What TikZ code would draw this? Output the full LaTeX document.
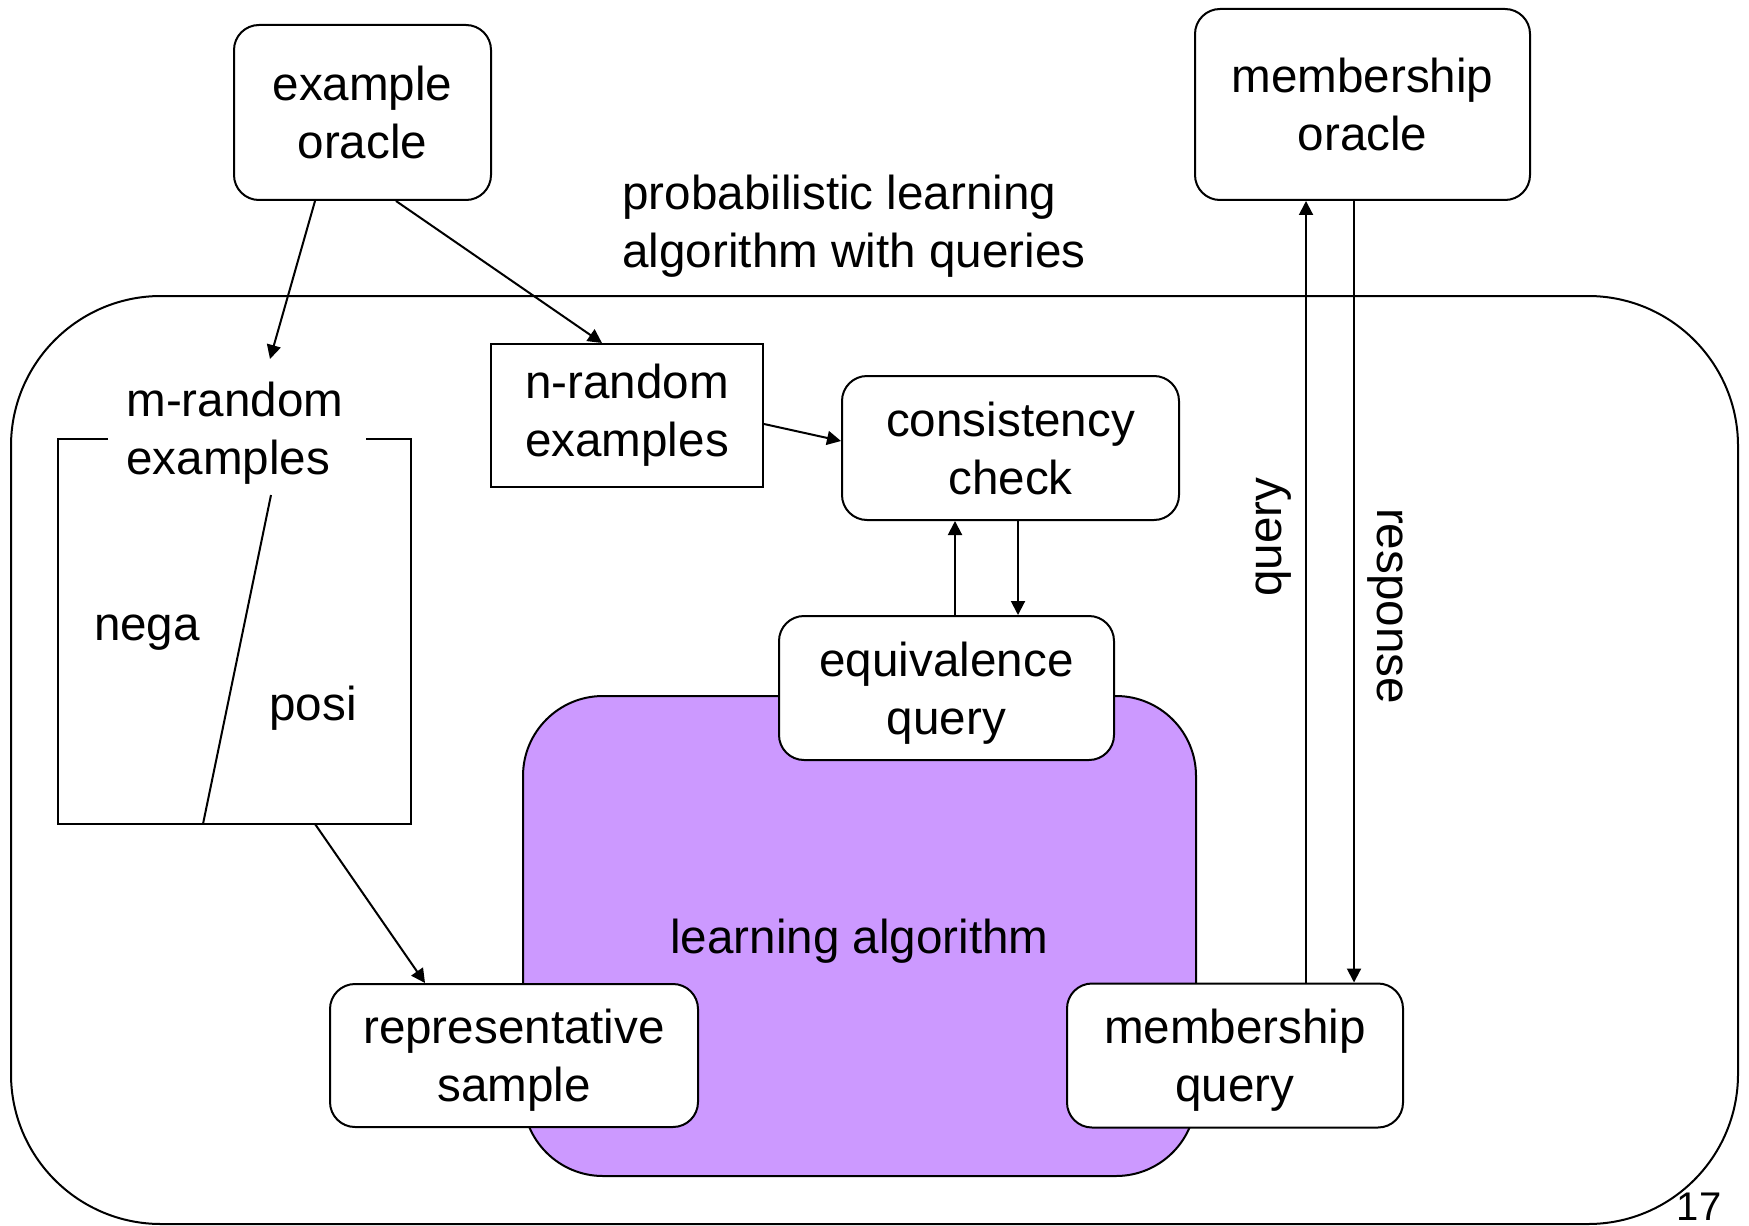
\documentclass[tikz,border=0pt]{standalone}
\usepackage{fontspec}
\setmainfont{Liberation Sans}
\usetikzlibrary{arrows.meta,calc}
\definecolor{lilac}{HTML}{CC99FF}
\begin{document}
\begin{tikzpicture}[x=0.5pt,y=-0.5pt,
  every node/.style={font=\fontsize{23.8pt}{29pt}\selectfont, inner sep=0pt},
  rbox/.style={draw, line width=1pt, rounded corners=12.5pt, fill=white, align=center, text depth=0pt},
  sbox/.style={draw, line width=1pt, fill=white, align=center},
  link/.style={line width=1pt, -{Triangle[length=7pt,width=7pt]}},
  plain/.style={line width=1pt}]
\path[use as bounding box, fill=white] (0,0) rectangle (1749,1225);

% outer frame of the probabilistic learner
\node[draw, line width=1pt, rounded corners=75pt, minimum width=863.5pt, minimum height=464pt] (outer) at (874.5,760) {};
\node[anchor=west, align=left, text depth=0pt] (title) at (622,221) {probabilistic learning\\algorithm with queries};

% oracles
\node[rbox, minimum width=128.5pt, minimum height=87.5pt] (exor) at (362.5,112.5) {example\\oracle};
\node[rbox, minimum width=167.5pt, minimum height=95.5pt] (memor) at (1362.5,104.5) {membership\\oracle};

% inner learning algorithm
\node[draw, line width=1pt, fill=lilac, rounded corners=40pt, minimum width=336.5pt, minimum height=240pt, text depth=0pt] (learn) at (859.5,936) {learning algorithm};

% m-random examples: open-topped box split into negative / positive
\node[anchor=west, align=left, text depth=0pt] (mtitle) at (126,428) {m-random\\examples};
\coordinate (mtl) at (108,439);
\coordinate (mtr) at (366,439);
\coordinate (mout) at (315,824);
\coordinate (min) at (270,359);
\draw[plain] (mtl) -- (58,439) -- (58,824) -- (411,824) -- (411,439) -- (mtr);
\coordinate (divtop) at (271,495);
\coordinate (divbot) at (203,824);
\draw[plain] (divtop) -- (divbot);
\node (nega) at (147,633) {nega};
\node (posi) at (313,708) {posi};

% other boxes
\node[sbox, minimum width=136pt, minimum height=71.5pt] (nrand) at (627,415.5) {n-random\\examples};
\node[rbox, minimum width=168.5pt, minimum height=72pt] (cons) at (1010.5,448) {consistency\\check};
\node[rbox, minimum width=167.5pt, minimum height=72pt] (equiv) at (946.5,688) {equivalence\\query};
\node[rbox, minimum width=184pt, minimum height=71.5pt] (rep) at (514,1055.5) {representative\\sample};
\node[rbox, minimum width=168pt, minimum height=72pt] (memq) at (1235,1055.5) {membership\\query};

% connectors
\draw[link] (315,0 |- exor.south) -- (min);
\draw[link] (396,0 |- exor.south) -- (602,0 |- nrand.north);
\draw[link] (nrand.east |- 0,424) -- (cons.west |- 0,441);
\draw[link] (955,0 |- equiv.north) -- (955,0 |- cons.south);
\draw[link] (1018,0 |- cons.south) -- (1018,0 |- equiv.north);
\draw[link] (mout) -- (425,0 |- rep.north);
\draw[link] (1306,0 |- memq.north) -- (1306,0 |- memor.south);
\draw[link] (1354,0 |- memor.south) -- (1354,0 |- memq.north);

\node[rotate=90] (qlab) at (1273.5,537) {query};
\node[rotate=-90] (rlab) at (1385.5,606) {response};

% page number
\node[anchor=base, font=\fontsize{20pt}{24pt}\selectfont] (pnum) at (1699,1220) {17};
\end{tikzpicture}
\end{document}
